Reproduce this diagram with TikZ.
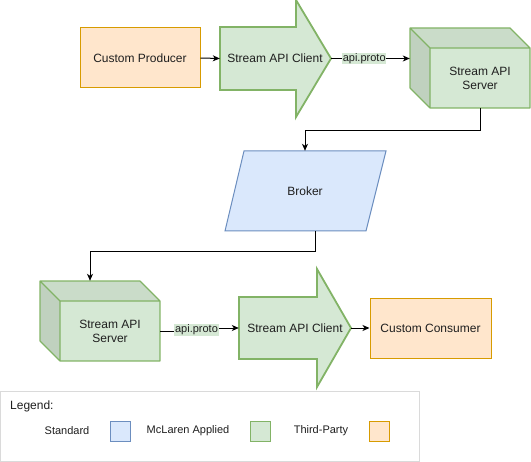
\documentclass[tikz,border=0pt]{standalone}
\usepackage{fontspec}
\setmainfont{Liberation Sans}
\usetikzlibrary{arrows.meta,calc}
\definecolor{orF}{HTML}{FFE6CC}\definecolor{orD}{HTML}{D79B00}
\definecolor{grF}{HTML}{D5E8D4}\definecolor{grD}{HTML}{82B366}
\definecolor{blF}{HTML}{DAE8FC}\definecolor{blD}{HTML}{6C8EBF}
\definecolor{txt}{HTML}{1F1F1F}
\definecolor{lgD}{HTML}{DADADA}
\newcommand{\mycube}[4]{%
  \fill[grF] (#1+20,#2+20) rectangle (#3,#4);
  \fill[grF!95!black] (#1,#2) -- (#3-20,#2) -- (#3,#2+20) -- (#1+20,#2+20) -- cycle;
  \fill[grF!90!black] (#1,#2) -- (#1+20,#2+20) -- (#1+20,#4) -- (#1,#4-20) -- cycle;
  \draw[grD,line width=1.2bp,line join=round] (#1,#2) -- (#3-20,#2) -- (#3,#2+20) -- (#3,#4) -- (#1+20,#4) -- (#1,#4-20) -- cycle
    (#1,#2) -- (#1+20,#2+20) -- (#3,#2+20) (#1+20,#2+20) -- (#1+20,#4);
}
\newcommand{\myarrow}[6]{% xleft, xneck, xtip, ycenter, bodyhalf, headhalf
  \draw[grD,fill=grF,line width=1.8bp,line join=miter]
    (#1,#4-#5) -- (#2,#4-#5) -- (#2,#4-#6) -- (#3,#4) -- (#2,#4+#6) -- (#2,#4+#5) -- (#1,#4+#5) -- cycle;
}
\tikzset{
  lbl/.style={font=\fontsize{12bp}{14bp}\selectfont, text=txt, align=center},
  hole/.style={draw=none, inner sep=0pt},
  edge/.style={draw=black, line width=1bp, -{Stealth[length=7bp,width=6bp,inset=2bp]}},
  protolbl/.style={fill=grF, inner sep=0.8bp, font=\fontsize{11bp}{13bp}\selectfont, text=txt},
  swatch/.style={minimum width=20bp, minimum height=20bp, inner sep=0pt, line width=1bp},
  leglbl/.style={font=\fontsize{11bp}{13bp}\selectfont, text=txt},
}
\begin{document}
\begin{tikzpicture}[x=1bp,y=-1bp]
\useasboundingbox (0,0) rectangle (531,462);
% producer
\node[lbl, draw=orD, fill=orF, line width=1bp, minimum width=120bp, minimum height=60bp, inner sep=0pt] (prod) at (140,58) {Custom Producer};
% top client arrow
\myarrow{220}{296}{331}{58.5}{31.5}{58.5}
\node[hole, minimum width=111bp, minimum height=63bp] (cl1) at (275.5,58.5) {};
\node[lbl] (cl1t) at (275,58.5) {Stream API Client};
% top server cube
\mycube{410}{28}{530}{108}
\node[hole, minimum width=120bp, minimum height=80bp] (srv1box) at (470,68) {};
\node[hole, lbl, minimum width=100bp, minimum height=60bp] (srv1) at (480,78) {Stream API\\Server};
% broker
\draw[blD, fill=blF, line width=1bp] (244,151) -- (386,151) -- (366,231) -- (225,231) -- cycle;
\node[hole, lbl, minimum width=122bp, minimum height=80bp] (broker) at (305,191) {Broker};
% bottom server cube
\mycube{40}{281}{160}{361}
\node[hole, lbl, minimum width=100bp, minimum height=60bp] (srv2) at (110,331) {Stream API\\Server};
% bottom client arrow
\myarrow{239}{317}{351}{328}{31}{59}
\node[hole, minimum width=112bp, minimum height=62bp] (cl2) at (295,328) {};
\node[lbl] (cl2t) at (295,328) {Stream API Client};
% consumer
\node[lbl, draw=orD, fill=orF, line width=1bp, minimum width=121bp, minimum height=60bp, inner sep=0pt] (cons) at (430.5,328) {Custom Consumer};
% edges
\draw[edge] (prod.east) -- (cl1.west);
\draw[edge] (cl1.east) -- (cl1.east -| srv1box.west) node[protolbl, pos=0.42] {api.proto};
\draw[edge] (srv1.south) -- ++(0,22) -| (broker.north);
\draw[edge] ($(broker.south)+(10,0)$) -- ++(0,20) -| ($(srv2.north)+(-20,-20)$);
\draw[edge] (srv2.east) -- (200,331) -- (200,328) -- (cl2.west);
\node[protolbl] at (196.5,330) {api.proto};
\draw[edge] (cl2.east) -- (cons.west);
% legend
\draw[lgD, line width=1bp, fill=white] (0.5,391) rectangle (419,461.5);
\node[lbl, anchor=west, inner sep=0pt] (legt) at (10,406) {Legend:};
\node[leglbl] (l1) at (67,431) {Standard};
\node[swatch, draw=blD, fill=blF] (s1) at (120,431) {};
\node[leglbl] (l2) at (188,431) {McLaren Applied};
\node[swatch, draw=grD, fill=grF] (s2) at (260,431) {};
\node[leglbl] (l3) at (321,431) {Third-Party};
\node[swatch, draw=orD, fill=orF] (s3) at (379,431) {};
\end{tikzpicture}
\end{document}
